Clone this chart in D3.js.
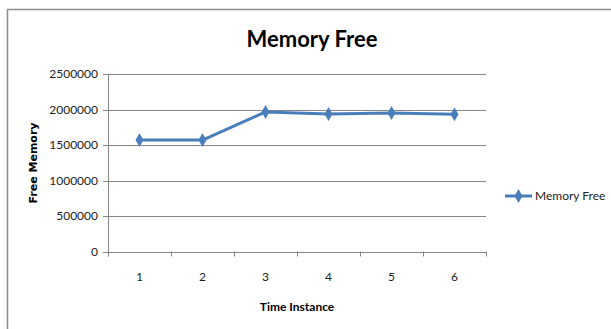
<!DOCTYPE html>
<html><head><meta charset="utf-8">
<script src="https://cdn.jsdelivr.net/npm/d3@7"></script>
<style>body{margin:0;background:#fff;} svg{display:block;}</style>
</head><body>
<script>
const categories = ["1","2","3","4","5","6"];
const memoryFree = [1570000, 1570000, 1965000, 1937000, 1951000, 1932000];
const yTicks = [0, 500000, 1000000, 1500000, 2000000, 2500000];
const seriesName = "Memory Free";

const W = 611, H = 329;
const svg = d3.select("body").append("svg").attr("width", W).attr("height", H);
svg.append("rect").attr("width", W).attr("height", H).attr("fill", "#fff");
// outer frame
svg.append("path").attr("d", `M7.5,${H} V9.5 H${W}`).attr("fill","none").attr("stroke","#8c8c8c").attr("stroke-width",1.5);

const m = {l:108, r:486, t:74, b:251.5};
const x = d3.scaleBand().domain(categories).range([m.l, m.r]);
const y = d3.scaleLinear().domain([0, 2500000]).range([m.b, m.t]);
const font = "Lato, 'Open Sans', sans-serif";

// gridlines
svg.append("g").selectAll("line").data(yTicks).join("line")
  .attr("x1", m.l - 5).attr("x2", m.r)
  .attr("y1", d => Math.round(y(d)) + 0.5).attr("y2", d => Math.round(y(d)) + 0.5)
  .attr("stroke", "#868686").attr("stroke-width", 1);

// y axis line
svg.append("line").attr("x1", m.l + 0.5).attr("x2", m.l + 0.5).attr("y1", m.t).attr("y2", m.b + 5)
  .attr("stroke", "#868686");

// x tick marks
const xb = categories.map(c => x(c)).concat([m.r]);
svg.append("g").selectAll("line").data(xb).join("line")
  .attr("x1", d => Math.round(d) + 0.5).attr("x2", d => Math.round(d) + 0.5)
  .attr("y1", m.b).attr("y2", m.b + 5).attr("stroke", "#868686");

// y tick labels
svg.append("g").selectAll("text").data(yTicks).join("text")
  .attr("x", 98).attr("y", d => y(d)).attr("dy", "0.35em")
  .attr("text-anchor", "end").attr("font-family", font).attr("font-size", 12).attr("fill", "#222")
  .text(d => d);

// x tick labels
svg.append("g").selectAll("text").data(categories).join("text")
  .attr("x", d => x(d) + x.bandwidth()/2).attr("y", 277).attr("dy", "0.35em")
  .attr("text-anchor", "middle").attr("font-family", font).attr("font-size", 12).attr("fill", "#222")
  .text(d => d);

// line
const line = d3.line().x((d,i) => x(categories[i]) + x.bandwidth()/2).y(d => y(d));
svg.append("path").datum(memoryFree).attr("d", line)
  .attr("fill", "none").attr("stroke", "#4a7ebb").attr("stroke-width", 3).attr("stroke-linejoin","round");
const diamond = d3.symbol().type(d3.symbolDiamond).size(55);
svg.append("g").selectAll("path").data(memoryFree).join("path")
  .attr("transform", (d,i) => `translate(${x(categories[i]) + x.bandwidth()/2},${y(d)})`)
  .attr("d", diamond).attr("fill", "#4a7ebb");

// title
svg.append("text").attr("x", 312).attr("y", 47).attr("text-anchor", "middle")
  .attr("font-family", font).attr("font-weight", "bold").attr("font-size", 22).attr("fill", "#000")
  .text("Memory Free");

// axis titles
svg.append("text").attr("transform", "translate(37,163) rotate(-90)").attr("text-anchor", "middle")
  .attr("font-family", "'DejaVu Sans', Verdana, sans-serif").attr("font-weight", "bold").attr("font-size", 11).attr("fill", "#000")
  .text("Free Memory");
svg.append("text").attr("x", 297).attr("y", 311).attr("text-anchor", "middle")
  .attr("font-family", font).attr("font-weight", "bold").attr("font-size", 12).attr("fill", "#000")
  .text("Time Instance");

// legend
svg.append("line").attr("x1", 505).attr("x2", 532).attr("y1", 196).attr("y2", 196)
  .attr("stroke", "#4a7ebb").attr("stroke-width", 3);
svg.append("path").attr("transform", "translate(518.5,196)").attr("d", diamond).attr("fill", "#4a7ebb");
svg.append("text").attr("x", 535).attr("y", 196).attr("dy", "0.35em")
  .attr("font-family", font).attr("font-size", 12).attr("fill", "#222")
  .text(seriesName);
</script>
</body></html>
